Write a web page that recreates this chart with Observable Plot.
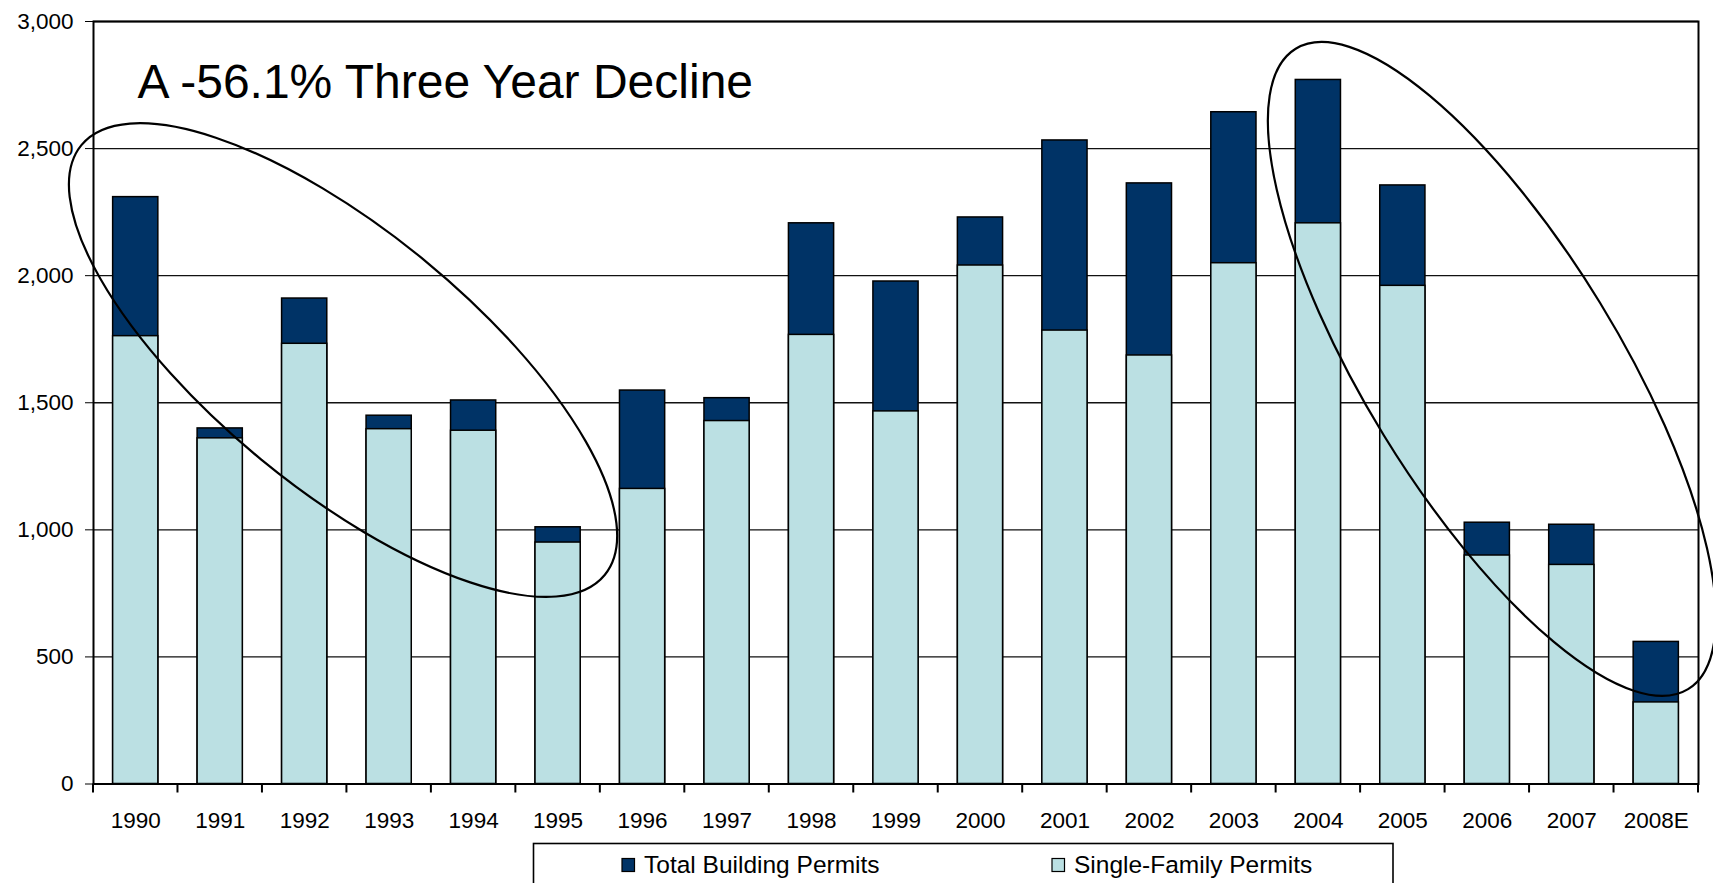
<!DOCTYPE html>
<html>
<head>
<meta charset="utf-8">
<script src="https://cdn.jsdelivr.net/npm/d3@7"></script>
<script src="https://cdn.jsdelivr.net/npm/@observablehq/plot@0.6"></script>
<style>
  html, body { margin: 0; padding: 0; background: #fff; overflow: hidden; }
  #chart svg { display: block; }
</style>
</head>
<body>
<div id="chart"></div>
<script>
// ---- data ----
const years = ["1990","1991","1992","1993","1994","1995","1996","1997","1998","1999",
               "2000","2001","2002","2003","2004","2005","2006","2007","2008E"];
const totalPermits = [2309,1399,1910,1449,1509,1010,1548,1518,2206,1977,
                      2229,2532,2363,2643,2770,2355,1028,1020,559];
const singleFamilyPermits = [1762,1360,1732,1396,1390,950,1161,1428,1767,1466,
                             2040,1784,1686,2049,2206,1960,899,862,321];
const yTicks = [0,500,1000,1500,2000,2500,3000];
const seriesNames = ["Total Building Permits","Single-Family Permits"];
const titleText = "A -56.1% Three Year Decline";

// annotation ellipses: centre given as (band position from left edge, value)
const ellipseCenterBand = [2.96, 16.56];
const ellipseCenterValue = [1666, 1631];
const ellipseRx = [338.6, 375.5];
const ellipseRy = [128.8, 126.8];
const ellipseAngle = [39.4, 58.5];

// ---- style / layout ----
const darkColor = "#003366";
const lightColor = "#BBE0E3";
const W = 1713, H = 842;
const font = "'Liberation Sans', Arial, sans-serif";

const data = years.map((y, i) => ({year: y, total: totalPermits[i], single: singleFamilyPermits[i]}));

const chart = Plot.plot({
  width: W,
  height: H,
  marginLeft: 93,
  marginRight: 15,
  marginTop: 21,
  marginBottom: 58.5,
  style: {fontFamily: font, fontSize: "22.5px", color: "#000", background: "#fff"},
  x: {type: "band", domain: years, paddingInner: 0.465, paddingOuter: 0.2325, round: false,
      tickSize: 0, tickPadding: 28, label: null},
  y: {domain: [0, 3000], ticks: yTicks, tickFormat: d3.format(","), tickSize: 8, tickPadding: 12, label: null},
  marks: [
    Plot.ruleY(yTicks, {stroke: "#111", strokeWidth: 1.4}),
    Plot.barY(data, {x: "year", y: "total", fill: darkColor, stroke: "#000", strokeWidth: 1.5}),
    Plot.barY(data, {x: "year", y: "single", fill: lightColor, stroke: "#000", strokeWidth: 1.5}),
    Plot.frame({stroke: "#000", strokeWidth: 2}),
    Plot.text([titleText], {text: d => d, frameAnchor: "top-left", dx: 44, dy: 76,
      textAnchor: "start", lineAnchor: "bottom", fontSize: 48, fill: "#000"})
  ]
});

document.getElementById("chart").appendChild(chart);

// ---- category boundary ticks and ellipses, from the plot's scales ----
const sx = chart.scale("x");
const sy = chart.scale("y");
const step = sx.step !== undefined ? sx.step : (sx.range[1] - sx.range[0]) / years.length;
const x0 = sx.range[0];
const yZero = sy.apply(0);
const svg = d3.select(chart);
const g = svg.append("g").attr("stroke", "#000").attr("fill", "none");
for (let i = 0; i <= years.length; i++) {
  const xp = x0 + i * step;
  g.append("line").attr("x1", xp).attr("x2", xp).attr("y1", yZero).attr("y2", yZero + 9)
    .attr("stroke-width", 2);
}
ellipseCenterBand.forEach((b, i) => {
  const cx = x0 + b * step;
  const cy = sy.apply(ellipseCenterValue[i]);
  g.append("ellipse")
    .attr("cx", cx).attr("cy", cy)
    .attr("rx", ellipseRx[i]).attr("ry", ellipseRy[i])
    .attr("transform", `rotate(${ellipseAngle[i]} ${cx} ${cy})`)
    .attr("stroke-width", 2.2);
});

// ---- legend (below the plot) ----
const leg = d3.select("body").append("svg")
  .attr("width", W).attr("height", 41)
  .style("display", "block")
  .style("font-family", font);
leg.append("rect").attr("x", 533.5).attr("y", 1.5).attr("width", 859.5).attr("height", 60)
  .attr("fill", "#fff").attr("stroke", "#000").attr("stroke-width", 1.6);
const legendColors = [darkColor, lightColor];
const swatchX = [622, 1052];
seriesNames.forEach((name, i) => {
  leg.append("rect").attr("x", swatchX[i]).attr("y", 16.5).attr("width", 12.5).attr("height", 13)
    .attr("fill", legendColors[i]).attr("stroke", "#000").attr("stroke-width", 1.2);
  leg.append("text").attr("x", swatchX[i] + 22).attr("y", 31)
    .attr("font-size", 24.5).attr("fill", "#000").text(name);
});
</script>
</body>
</html>
